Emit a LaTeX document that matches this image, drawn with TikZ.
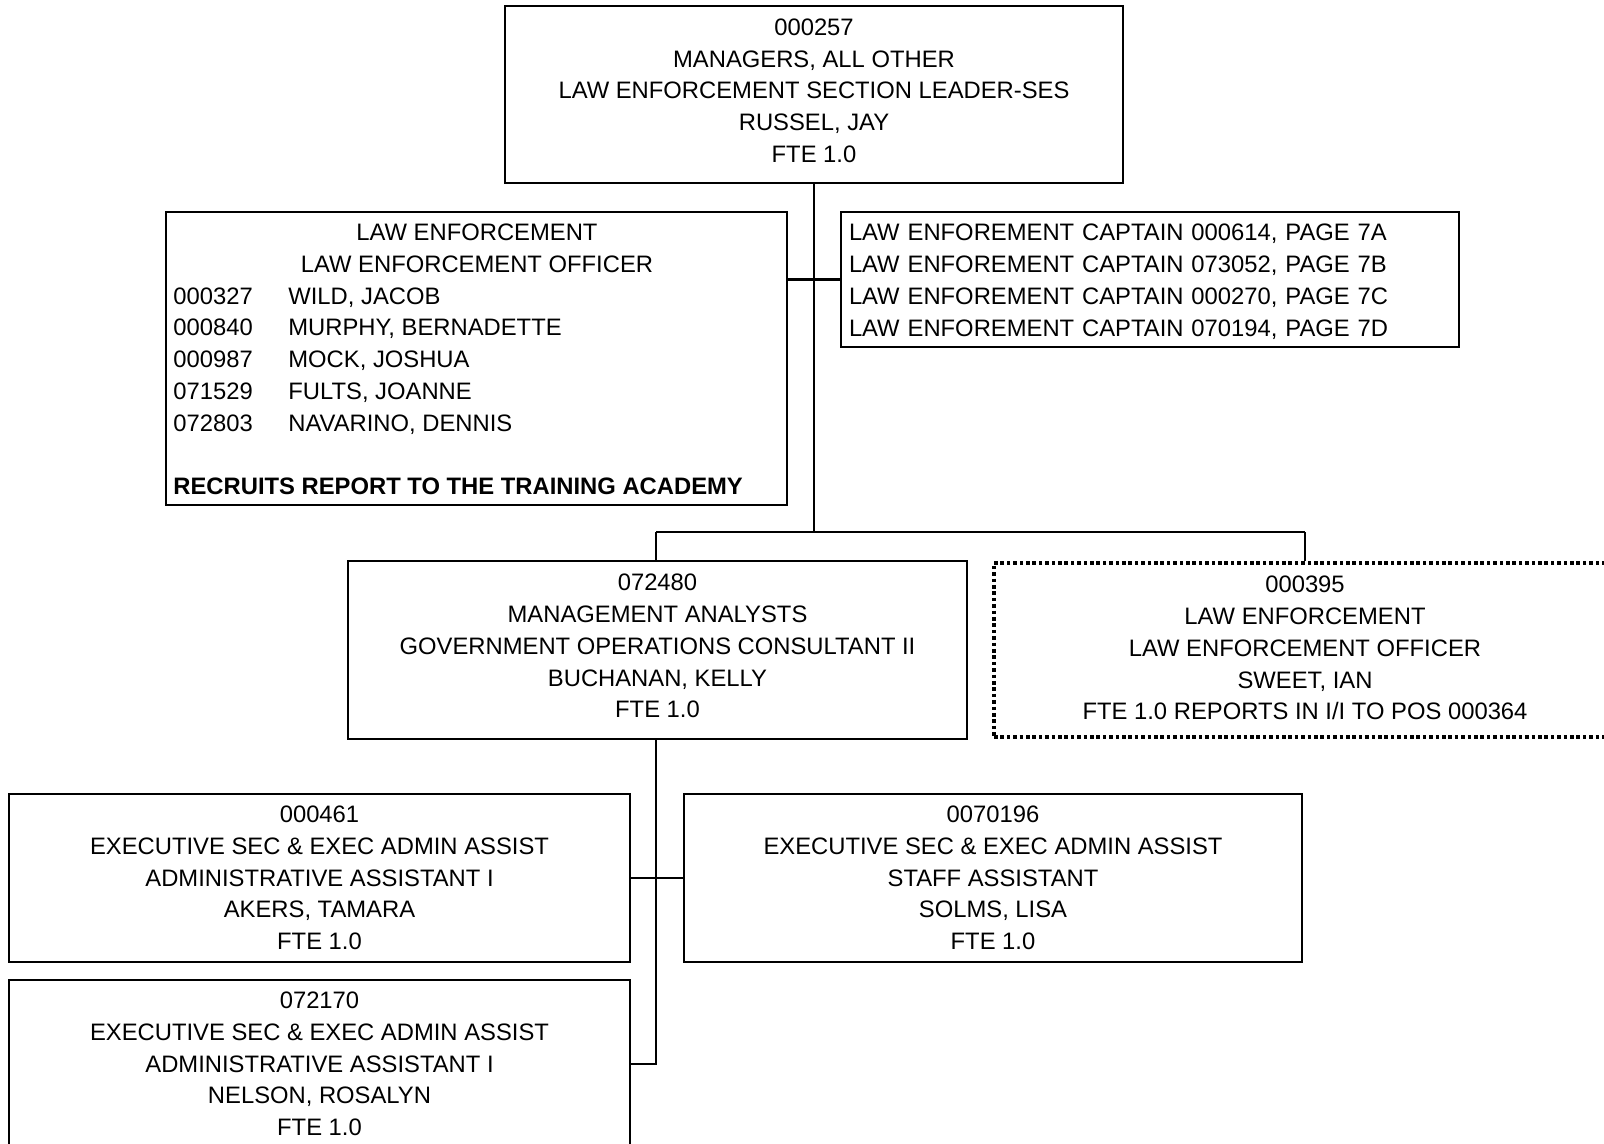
\documentclass[tikz,border=0pt]{standalone}
\usepackage{fontspec}
\setmainfont{Liberation Sans}
\newcommand\orgfont{\fontsize{11.9}{15.85}\selectfont}
\begin{document}
\begin{tikzpicture}[x=0.5pt,y=-0.5pt,
  orgbox/.style={draw, line width=1.1pt, inner sep=0pt, align=center, font=\orgfont},
  vacant/.style={orgbox, line width=1.8pt, dash pattern=on 1.8pt off 1.4pt},
  txt/.style={inner sep=0pt, font=\orgfont},
  link/.style={line width=1.1pt}]
% page area
\clip (0,0) rectangle (1604,1144);
\fill[white] (0,0) rectangle (1604,1144);

% section leader
\node[orgbox, minimum width=309pt, minimum height=88.5pt, text depth=4pt] (top) at (814,94.5)
  {000257\\MANAGERS, ALL OTHER\\LAW ENFORCEMENT SECTION LEADER-SES\\RUSSEL, JAY\\FTE 1.0};

% officers reporting to the training academy
\node[orgbox, minimum width=310.5pt, minimum height=146.5pt] (le) at (476.5,358.5) {};
\node[txt, anchor=base] (leh1) at (477,240.7) {LAW ENFORCEMENT};
\node[txt, anchor=base] (leh2) at (477,272.4) {LAW ENFORCEMENT OFFICER};
\node[txt, anchor=base west] (n1) at (173,304.1) {000327};
\node[txt, anchor=base west] (p1) at (288,304.1) {WILD, JACOB};
\node[txt, anchor=base west] (n2) at (173,335.9) {000840};
\node[txt, anchor=base west] (p2) at (288,335.9) {MURPHY, BERNADETTE};
\node[txt, anchor=base west] (n3) at (173,367.6) {000987};
\node[txt, anchor=base west] (p3) at (288,367.6) {MOCK, JOSHUA};
\node[txt, anchor=base west] (n4) at (173,399.3) {071529};
\node[txt, anchor=base west] (p4) at (288,399.3) {FULTS, JOANNE};
\node[txt, anchor=base west] (n5) at (173,431.0) {072803};
\node[txt, anchor=base west] (p5) at (288,431.0) {NAVARINO, DENNIS};
\node[txt, anchor=base west, font=\orgfont\bfseries] (note) at (173,494.4)
  {RECRUITS REPORT TO THE TRAINING ACADEMY};

% captains
\node[orgbox, minimum width=309pt, minimum height=67.5pt, text width=301pt, align=left, text height=10.5pt] (cap) at (1150,279.5)
  {LAW ENFOREMENT CAPTAIN 000614, PAGE 7A\\LAW ENFOREMENT CAPTAIN 073052, PAGE 7B\\LAW ENFOREMENT CAPTAIN 000270, PAGE 7C\\LAW ENFOREMENT CAPTAIN 070194, PAGE 7D};

% analyst and dotted-line officer
\node[orgbox, minimum width=309.5pt, minimum height=89pt, text depth=4pt] (mid) at (657.5,650)
  {072480\\MANAGEMENT ANALYSTS\\GOVERNMENT OPERATIONS CONSULTANT II\\BUCHANAN, KELLY\\FTE 1.0};
\node[vacant, minimum width=311pt, minimum height=87pt, text depth=2pt] (sweet) at (1305,650)
  {000395\\LAW ENFORCEMENT\\LAW ENFORCEMENT OFFICER\\SWEET, IAN\\FTE 1.0 REPORTS IN I/I TO POS 000364};

% assistants
\node[orgbox, minimum width=310.5pt, minimum height=84pt] (ea1) at (319.5,878)
  {000461\\EXECUTIVE SEC \& EXEC ADMIN ASSIST\\ADMINISTRATIVE ASSISTANT I\\AKERS, TAMARA\\FTE 1.0};
\node[orgbox, minimum width=309pt, minimum height=84pt] (ea2) at (993,878)
  {0070196\\EXECUTIVE SEC \& EXEC ADMIN ASSIST\\STAFF ASSISTANT\\SOLMS, LISA\\FTE 1.0};
\node[orgbox, minimum width=310.5pt, minimum height=84pt] (ea3) at (319.5,1064)
  {072170\\EXECUTIVE SEC \& EXEC ADMIN ASSIST\\ADMINISTRATIVE ASSISTANT I\\NELSON, ROSALYN\\FTE 1.0};

% connectors
\coordinate (j1) at (814,532);
\coordinate (j2) at (656,532);
\coordinate (j3) at (1305,532);
\draw[link] (top.south) -- (j1);
\draw[link] (le.east |- cap.west) -- (cap.west);
\draw[link] (j2) -- (j3);
\draw[link] (j2) -- (j2 |- mid.north);
\draw[link] (j3) -- (sweet.north);
\draw[link] (j2 |- mid.south) -- (j2 |- ea3.east) -- (ea3.east);
\draw[link] (ea1.east) -- (ea2.west);
\end{tikzpicture}
\end{document}
